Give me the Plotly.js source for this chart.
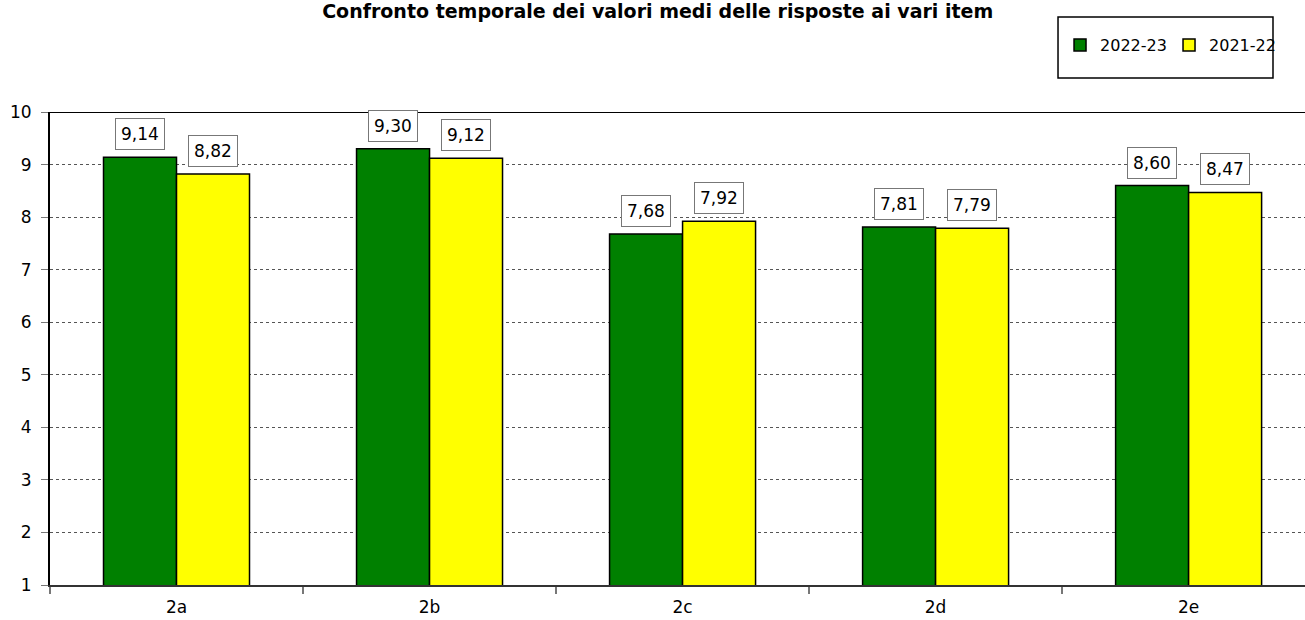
<!DOCTYPE html>
<html>
<head>
<meta charset="utf-8">
<script src="https://cdn.plot.ly/plotly-3.0.1.min.js"></script>
<style>html,body{margin:0;padding:0;background:#fff;overflow:hidden}</style>
</head>
<body>
<div id="chart" style="width:1305px;height:620px"></div>
<script>
const categories = ["2a", "2b", "2c", "2d", "2e"];
const series2022_23 = [9.14, 9.30, 7.68, 7.81, 8.60];
const series2021_22 = [8.82, 9.12, 7.92, 7.79, 8.47];
const seriesNames = ["2022-23", "2021-22"];
const tickValues = [1, 2, 3, 4, 5, 6, 7, 8, 9, 10];

const FONT = "DejaVu Sans, sans-serif";
const fmt = v => v.toFixed(2).replace(".", ",");

const traces = [
  {type: "bar", name: seriesNames[0], x: categories, y: series2022_23,
   marker: {color: "#008000", line: {color: "#000", width: 1.5}}, hoverinfo: "skip"},
  {type: "bar", name: seriesNames[1], x: categories, y: series2021_22,
   marker: {color: "#FFFF00", line: {color: "#000", width: 1.5}}, hoverinfo: "skip"}
];

const bargap = 0.423;
const off = (1 - bargap) / 4;
const annotations = [];
categories.forEach((c, i) => {
  [[series2022_23, -off], [series2021_22, off]].forEach(([arr, d]) => {
    annotations.push({
      x: i + d, y: arr[i], xref: "x", yref: "y",
      text: fmt(arr[i]), showarrow: false, yanchor: "bottom", yshift: 7,
      font: {family: FONT, size: 17, color: "#000"},
      bgcolor: "#fff", bordercolor: "#777", borderwidth: 1, borderpad: 5
    });
  });
});

const layout = {
  width: 1305, height: 620,
  margin: {l: 50, r: 0, t: 112, b: 35},
  paper_bgcolor: "#fff", plot_bgcolor: "#fff",
  font: {family: FONT, color: "#000"},
  title: {text: "<b>Confronto temporale dei valori medi delle risposte ai vari item</b>",
          x: 0.504, xref: "container", xanchor: "center",
          y: 0.981, yref: "container", yanchor: "middle",
          font: {family: FONT, size: 19, color: "#000"}},
  barmode: "group", bargap: bargap, bargroupgap: 0,
  showlegend: true,
  legend: {orientation: "h", x: 0.8048, xanchor: "left", y: 1.1416, yanchor: "middle",
           font: {family: FONT, size: 16, color: "#000"}, bgcolor: "rgba(0,0,0,0)",
           borderwidth: 0, entrywidth: 64, entrywidthmode: "pixels", tracegroupgap: 0},
  xaxis: {type: "category", range: [-0.5, 4.46], tickson: "boundaries",
          ticks: "outside", ticklen: 7, tickcolor: "#777", tickwidth: 1.5,
          showline: true, linecolor: "#333", linewidth: 2, showgrid: false,
          ticklabelstandoff: 6,
          tickfont: {family: FONT, size: 17, color: "#000"}, fixedrange: true},
  yaxis: {range: [1, 10], tickvals: tickValues, ticks: "outside", ticklen: 7,
          tickcolor: "#777", tickwidth: 1, showline: true, linecolor: "#000", linewidth: 2,
          showgrid: true, gridcolor: "#555", gridwidth: 1, griddash: "dot",
          ticklabelstandoff: 6,
          zeroline: false, tickfont: {family: FONT, size: 17, color: "#000"}, fixedrange: true},
  annotations: annotations,
  shapes: [
    {type: "line", xref: "paper", yref: "y", x0: 0, x1: 1, y0: 10, y1: 10,
     line: {color: "#000", width: 2}},
    {type: "rect", xref: "paper", yref: "paper", x0: 0.8032, x1: 0.9745, y0: 1.0719, y1: 1.2008,
     line: {color: "#000", width: 1.5}, fillcolor: "rgba(0,0,0,0)"}
  ]
};

Plotly.newPlot("chart", traces, layout, {displayModeBar: false, staticPlot: true});
</script>
</body>
</html>
